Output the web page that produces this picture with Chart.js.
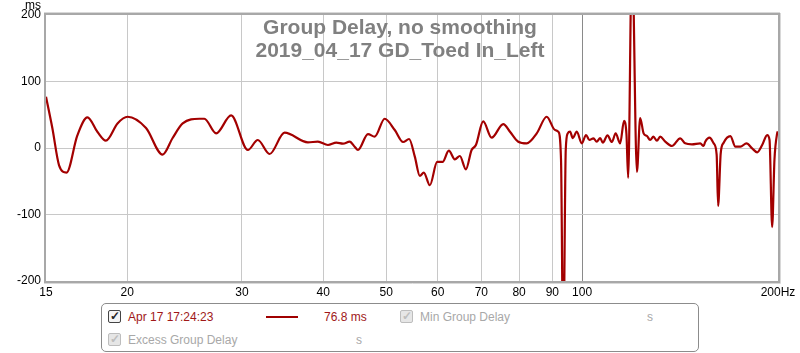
<!DOCTYPE html>
<html>
<head>
<meta charset="utf-8">
<script src="https://cdn.jsdelivr.net/npm/chart.js@4.4.1/dist/chart.umd.min.js"></script>
<style>
  html, body { margin: 0; padding: 0; background: #fff; }
  #wrap { position: relative; width: 800px; height: 353px; font-family: "Liberation Sans", Arial, sans-serif; }
  #c { position: absolute; left: 0; top: 0; }
  .legend { position: absolute; left: 101px; top: 303px; width: 596px; height: 47px; border: 1px solid #8c8c8c; border-radius: 5px; background: #fff; }
  .item { position: absolute; font-size: 12px; line-height: 14px; white-space: nowrap; }
  .cb { position: absolute; width: 11px; height: 11px; border: 1px solid #444; border-radius: 2px; background: #f4f4f4; font-size: 12px; line-height: 11px; text-align: center; font-weight: bold; color: #222; }
  .cb.off { border-color: #bdbdbd; background: #e6e6e6; color: #bdbdbd; }
  .red { color: #a01818; }
  .gray { color: #a8a8a8; }
  .sample { position: absolute; left: 164px; top: 12px; width: 32px; height: 2px; background: #a00000; }
</style>
</head>
<body>
<div id="wrap">
  <canvas id="c" width="800" height="353"></canvas>
  <div class="legend">
    <div class="cb" style="left:6px;top:6px;">&#10003;</div>
    <div class="item red" style="left:26px;top:6px;">Apr 17 17:24:23</div>
    <div class="sample"></div>
    <div class="item red" style="left:222px;top:6px;">76.8 ms</div>
    <div class="cb off" style="left:298px;top:6px;">&#10003;</div>
    <div class="item gray" style="left:318px;top:6px;">Min Group Delay</div>
    <div class="item gray" style="left:545px;top:6px;">s</div>
    <div class="cb off" style="left:6px;top:29px;">&#10003;</div>
    <div class="item gray" style="left:26px;top:29px;">Excess Group Delay</div>
    <div class="item gray" style="left:254px;top:29px;">s</div>
  </div>
</div>
<script>
// ---- data ----
const titleLines = ["Group Delay, no smoothing", "2019_04_17 GD_Toed In_Left"];
const yUnit = "ms";
const freqHz = [
  15.0, 15.34, 15.71, 16.13, 16.76, 17.37, 18.0, 18.54, 19.32, 20.02,
  21.37, 22.66, 23.48, 24.33, 25.81, 26.27, 27.39, 28.88, 30.64, 31.74,
  33.09, 34.89, 37.90, 39.26, 40.68, 41.91, 42.90, 43.93, 44.71, 45.24,
  46.87, 48.00, 49.73, 51.53, 53.07, 54.21, 55.32, 56.31, 57.11, 58.34,
  59.87, 61.02, 62.40, 63.74, 64.88, 66.28, 67.63, 68.67, 70.47, 72.60,
  75.65, 77.47, 79.78, 82.19, 85.16, 88.23, 90.86, 91.93, 92.81, 93.54,
  94.37, 95.04, 95.82, 96.74, 98.12, 99.88, 101.4, 102.6, 104.1, 105.3,
  106.6, 107.6, 109.4, 111.1, 112.6, 114.4, 116.0, 117.0, 117.7, 119.3,
  121.4, 122.8, 124.3, 125.8, 127.2, 128.7, 130.3, 131.8, 134.2, 137.4,
  141.5, 144.0, 147.5, 151.9, 153.7, 154.6, 157.0, 159.3, 160.97, 161.8,
  163.3, 165.0, 169.0, 172.0, 175.1, 178.9, 182.5, 185.8, 189.1, 192.5,
  194.1, 195.9, 197.5, 199.4, 200.0
];
const groupDelayMs = [
  77, 30, -26, -37, 19, 46, 24, 11, 37, 47,
  30, -10, 15, 37, 44, 44, 22, 49, -3, 12,
  -9, 23, 8.5, 9.5, 4.5, 8, 6.5, 9.5, 2, -3,
  21, 17, 44, 27, 9, 13.5, -13, -42, -37, -56,
  -21, -21, -4, -17, -12, -32, -3, 4.5, 40, 15.5,
  36, 24.5, 9.5, 7, 22, 47, 27, 24.5, -18, -320,
  -3, 22, 24.5, 15, 24.5, 7, 19.5, 12, 14.6, 9.5,
  15, 8, 19, 9, 22, 7, 41, 20, -45, 300,
  -36, 45, 22, 18, 12, 17, 11, 17, 9.5, 3,
  14.6, 7, 5.5, 7, 3, 9.5, 15.5, 7, -10, -87,
  -8, 8, 18, 2, 2, 7, -0.5, -6.5, 4.5, 19.5,
  12, -119, -18, 22, 25
];
const xTicks = [15, 20, 30, 40, 50, 60, 70, 80, 90, 100, 200];
const xTickLabels = ["15", "20", "30", "40", "50", "60", "70", "80", "90", "100", "200Hz"];
const yTicks = [-200, -100, 0, 100, 200];

const FONT = '"Liberation Sans", Arial, sans-serif';

const framePlugin = {
  id: 'frame',
  afterDatasetsDraw(chart) {
    const a = chart.chartArea, ctx = chart.ctx;
    ctx.save();
    ctx.strokeStyle = '#d8d8d8';
    ctx.lineWidth = 1;
    ctx.beginPath();
    ctx.moveTo(a.right + 2.5, a.top - 2);
    ctx.lineTo(a.right + 2.5, a.bottom + 2.5);
    ctx.lineTo(a.left - 2, a.bottom + 2.5);
    ctx.moveTo(a.left - 2, a.top - 2.5);
    ctx.lineTo(a.right + 2, a.top - 2.5);
    ctx.stroke();
    ctx.strokeStyle = '#a8a8a8';
    ctx.lineWidth = 2;
    ctx.strokeRect(a.left - 1, a.top - 1, a.right - a.left + 2, a.bottom - a.top + 2);
    ctx.restore();
  },
  afterDraw(chart) {
    const ctx = chart.ctx;
    ctx.save();
    ctx.fillStyle = '#808080';
    ctx.font = 'bold 21px ' + FONT;
    ctx.textAlign = 'center';
    ctx.textBaseline = 'alphabetic';
    ctx.fillText(titleLines[0], 400, 34);
    ctx.fillText(titleLines[1], 400, 57);
    ctx.fillStyle = '#000';
    ctx.font = '12px ' + FONT;
    ctx.textAlign = 'right';
    ctx.fillText(yUnit, 41, 9);
    ctx.restore();
  }
};

new Chart(document.getElementById('c'), {
  type: 'line',
  data: {
    datasets: [{
      data: freqHz.map((f, i) => ({ x: f, y: groupDelayMs[i] })),
      borderColor: '#a30000',
      borderWidth: 2.2,
      pointRadius: 0,
      fill: false,
      cubicInterpolationMode: 'monotone',
      clip: 0
    }]
  },
  options: {
    responsive: false,
    animation: false,
    devicePixelRatio: 1,
    layout: { padding: { top: 15, right: 22, left: 0, bottom: 0 } },
    plugins: { legend: { display: false }, tooltip: { enabled: false }, title: { display: false } },
    scales: {
      x: {
        type: 'logarithmic',
        min: 15, max: 200,
        afterBuildTicks: (s) => { s.ticks = xTicks.map(v => ({ value: v })); },
        afterFit: (s) => { s.height = 72; },
        border: { display: false },
        grid: {
          drawTicks: false,
          lineWidth: 1,
          color: (c) => {
            const v = c.tick && c.tick.value;
            if (v === 15 || v === 200) return 'rgba(0,0,0,0)';
            if (v === 100) return '#8a8a8a';
            return '#c8c8c8';
          }
        },
        ticks: {
          autoSkip: false, maxRotation: 0, minRotation: 0,
          padding: 4,
          color: '#000',
          font: { family: FONT, size: 12 },
          callback: (v, i) => xTickLabels[i]
        }
      },
      y: {
        min: -200, max: 200,
        afterBuildTicks: (s) => { s.ticks = yTicks.map(v => ({ value: v })); },
        afterFit: (s) => { s.width = 46; },
        border: { display: false },
        grid: {
          drawTicks: false,
          lineWidth: 1,
          color: (c) => {
            const v = c.tick && c.tick.value;
            if (v === 200 || v === -200) return 'rgba(0,0,0,0)';
            return '#c8c8c8';
          }
        },
        ticks: {
          padding: 5,
          color: '#000',
          font: { family: FONT, size: 12 },
          callback: (v) => String(v)
        }
      }
    }
  },
  plugins: [framePlugin]
});
</script>
</body>
</html>
